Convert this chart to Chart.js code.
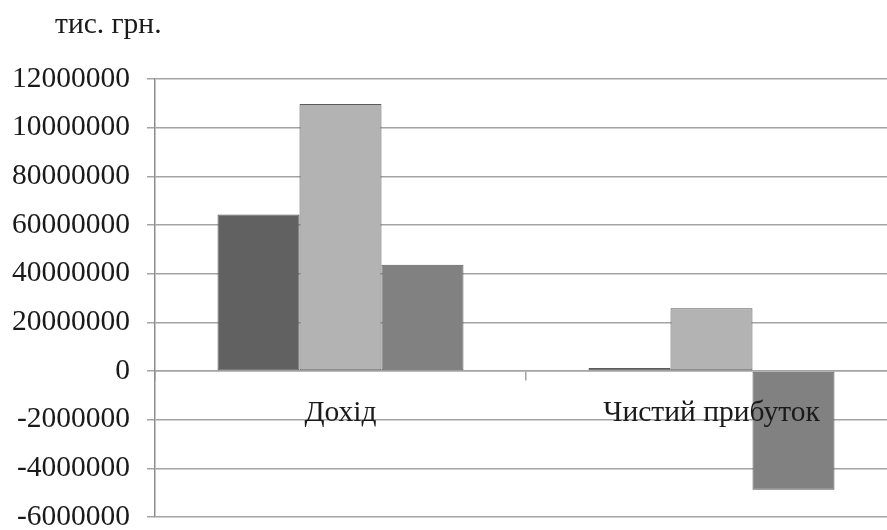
<!DOCTYPE html>
<html>
<head>
<meta charset="utf-8">
<script src="https://cdn.jsdelivr.net/npm/chart.js@4/dist/chart.umd.min.js"></script>
<style>
  html, body { margin: 0; padding: 0; background: #fff; overflow: hidden; }
  #wrap { position: relative; width: 900px; height: 530px; }
</style>
</head>
<body>
<div id="wrap"><canvas id="c" width="900" height="530"></canvas></div>
<script>
// Categories on the horizontal axis
const categories = ['Дохід', 'Чистий прибуток'];

// Three series, one value per category
const series1 = [64300000, 1200000];
const series2 = [109700000, 25800000];
const series3 = [43700000, -48800000];

// Vertical axis labels, from bottom to top
const yTickLabels = ['-6000000', '-4000000', '-2000000', '0', '20000000',
  '40000000', '60000000', '80000000', '10000000', '12000000'];

const unitLabel = 'тис. грн.';

const FONT = '"Liberation Serif", "Times New Roman", serif';
const FONT_SIZE = 29.5;
const GRID = '#a4a4a4';

// Unit caption in the top-left corner
const unitCaption = {
  id: 'unitCaption',
  afterDraw(chart) {
    const ctx = chart.ctx;
    ctx.save();
    ctx.font = FONT_SIZE + 'px ' + FONT;
    ctx.fillStyle = '#1a1a1a';
    ctx.textAlign = 'left';
    ctx.textBaseline = 'alphabetic';
    ctx.fillText(unitLabel, 55, 33);
    ctx.restore();
  }
};

new Chart(document.getElementById('c'), {
  type: 'bar',
  data: {
    labels: categories,
    datasets: [
      { label: 'Ряд 1', data: series1, backgroundColor: '#616161' },
      { label: 'Ряд 2', data: series2, backgroundColor: '#b3b3b3' },
      { label: 'Ряд 3', data: series3, backgroundColor: '#818181' }
    ].map(d => Object.assign(d, {
      borderColor: '#5a5a5a',
      borderWidth: 1,
      borderSkipped: false,
      barPercentage: 1.0,
      categoryPercentage: 0.663
    }))
  },
  options: {
    responsive: false,
    animation: false,
    devicePixelRatio: 1,
    layout: { padding: { left: 0, right: 3, top: 79, bottom: 13 } },
    plugins: {
      legend: { display: false },
      tooltip: { enabled: false },
      title: { display: false }
    },
    scales: {
      x: {
        position: { y: 0 },
        offset: true,
        grid: {
          display: true,
          drawOnChartArea: false,
          drawTicks: true,
          tickLength: 9,
          color: GRID,
          lineWidth: 1.5
        },
        border: { display: true, color: GRID, width: 1.5 },
        ticks: {
          z: 1,
          color: '#1a1a1a',
          font: { family: FONT, size: FONT_SIZE },
          padding: 16,
          maxRotation: 0,
          autoSkip: false
        }
      },
      y: {
        min: -60000000,
        max: 120000000,
        afterFit(scale) {
          scale.width = 155;
          scale.paddingTop = 0;
          scale.paddingBottom = 0;
        },
        grid: {
          color: GRID,
          lineWidth: 1.5,
          drawTicks: true,
          tickLength: 8
        },
        border: { display: true, color: '#8c8c8c', width: 1.5 },
        ticks: {
          stepSize: 20000000,
          color: '#1a1a1a',
          font: { family: FONT, size: FONT_SIZE },
          padding: 17,
          callback: (value, index) => yTickLabels[index]
        }
      }
    }
  },
  plugins: [unitCaption]
});
</script>
</body>
</html>
